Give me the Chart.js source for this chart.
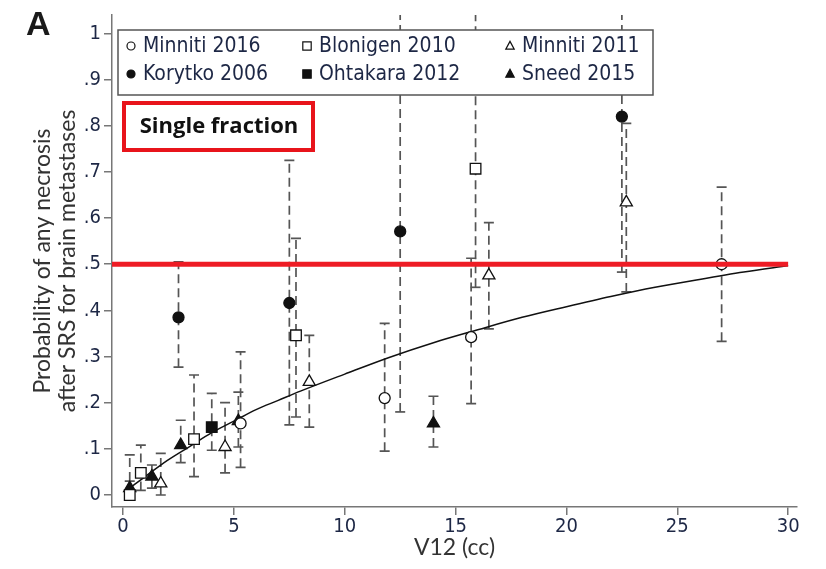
<!DOCTYPE html>
<html>
<head>
<meta charset="utf-8">
<script src="https://cdn.jsdelivr.net/npm/chart.js"></script>
<style>
  html, body { margin: 0; background: #fff; }
  #wrap { width: 826px; height: 569px; }
</style>
</head>
<body>
<div id="wrap"><canvas id="necrosisChart" width="826" height="569"></canvas></div>
<script>
// values: V12 (cc), probability, lower / upper CI
const minniti2016V  = [5.3, 11.8, 15.7, 27.0];
const minniti2016P  = [0.155, 0.21, 0.342, 0.50];
const minniti2016Lo = [0.06, 0.095, 0.198, 0.333];
const minniti2016Hi = [0.31, 0.372, 0.513, 0.667];

const korytko2006V  = [2.5, 7.5, 12.5, 22.5];
const korytko2006P  = [0.385, 0.416, 0.571, 0.82];
const korytko2006Lo = [0.277, 0.152, 0.18, 0.483];
const korytko2006Hi = [0.505, 0.725, 1.2, 1.2];

const blonigen2010V  = [0.3, 0.8, 3.2, 7.8, 15.9];
const blonigen2010P  = [0.0, 0.048, 0.121, 0.346, 0.707];
const blonigen2010Lo = [0.0, 0.01, 0.04, 0.169, 0.45];
const blonigen2010Hi = [0.03, 0.108, 0.26, 0.556, 1.2];

const ohtakara2012V  = [4.0];
const ohtakara2012P  = [0.147];
const ohtakara2012Lo = [0.097];
const ohtakara2012Hi = [0.22];

const minniti2011V  = [1.7, 4.6, 8.4, 16.5, 22.7];
const minniti2011P  = [0.025, 0.104, 0.245, 0.476, 0.634];
const minniti2011Lo = [0.0, 0.048, 0.147, 0.36, 0.44];
const minniti2011Hi = [0.09, 0.20, 0.346, 0.59, 0.805];

const sneed2015V  = [0.3, 1.3, 2.6, 5.2, 14.0];
const sneed2015P  = [0.015, 0.04, 0.108, 0.16, 0.155];
const sneed2015Lo = [0.0, 0.015, 0.07, 0.104, 0.104];
const sneed2015Hi = [0.087, 0.065, 0.162, 0.223, 0.214];

// fitted curve, read point by point
const curveV = [0.3, 1, 2, 3, 4, 5, 6, 7, 8, 10, 12, 14, 16, 18, 20, 22, 24, 26, 28, 30];
const curveP = [0.015, 0.04, 0.075, 0.105, 0.135, 0.16, 0.185, 0.205, 0.225, 0.262, 0.298, 0.33, 0.358, 0.385, 0.408, 0.43, 0.45, 0.467, 0.483, 0.497];

const thresholdV = [-0.5, 30];
const thresholdP = [0.5, 0.5];

const xTicks = [0, 5, 10, 15, 20, 25, 30];
const yTicks = [0, 0.1, 0.2, 0.3, 0.4, 0.5, 0.6, 0.7, 0.8, 0.9, 1];
const yTickLabels = ['0', '.1', '.2', '.3', '.4', '.5', '.6', '.7', '.8', '.9', '1'];

const narrow = '"DejaVu Sans Condensed", "Liberation Sans Narrow", sans-serif';
const navy = '#1d2745';

function pts(xs, ys) {
    return xs.map((v, i) => ({ x: v, y: ys[i] }));
}

function study(label, xs, ys, lo, hi, style, filled) {
    return {
        label: label,
        data: pts(xs, ys),
        lo: lo,
        hi: hi,
        showLine: false,
        pointStyle: style,
        pointRadius: style === 'rect' ? 7.5 : (style === 'triangle' ? 7 : 5.5),
        pointBackgroundColor: filled ? '#111' : '#fff',
        pointBorderColor: '#111',
        pointBorderWidth: 1.3,
        order: 1,
        filled: filled
    };
}

// dashed CI bars with caps, drawn under the markers
const errorBars = {
    id: 'errorBars',
    beforeDatasetsDraw(chart) {
        const { ctx, chartArea: a, scales: { x, y } } = chart;
        ctx.save();
        ctx.beginPath();
        ctx.rect(a.left, a.top, a.right - a.left, a.bottom - a.top);
        ctx.clip();
        ctx.strokeStyle = '#555';
        ctx.lineWidth = 1.7;
        chart.data.datasets.forEach(ds => {
            if (!ds.lo) return;
            ds.data.forEach((p, i) => {
                const px = x.getPixelForValue(p.x);
                const lo = y.getPixelForValue(ds.lo[i]);
                const hi = y.getPixelForValue(ds.hi[i]);
                ctx.setLineDash([9, 5]);
                ctx.beginPath();
                ctx.moveTo(px, lo);
                ctx.lineTo(px, hi);
                ctx.stroke();
                ctx.setLineDash([]);
                ctx.beginPath();
                ctx.moveTo(px - 5, lo); ctx.lineTo(px + 5, lo);
                if (ds.hi[i] <= 1) { ctx.moveTo(px - 5, hi); ctx.lineTo(px + 5, hi); }
                ctx.stroke();
            });
        });
        ctx.restore();
    }
};

function marker(ctx, style, filled, cx, cy, r) {
    ctx.beginPath();
    if (style === 'circle') {
        ctx.arc(cx, cy, r, 0, Math.PI * 2);
    } else if (style === 'rect') {
        ctx.rect(cx - r, cy - r, 2 * r, 2 * r);
    } else {
        ctx.moveTo(cx, cy - r * 1.1);
        ctx.lineTo(cx + r, cy + r * 0.75);
        ctx.lineTo(cx - r, cy + r * 0.75);
        ctx.closePath();
    }
    ctx.fillStyle = filled ? '#111' : '#fff';
    ctx.fill();
    ctx.strokeStyle = '#111';
    ctx.lineWidth = 1.2;
    ctx.stroke();
}

// legend box, panel letter and "Single fraction" label
const decorations = {
    id: 'decorations',
    afterDatasetsDraw(chart) {
        const { ctx, chartArea: a } = chart;
        ctx.save();

        const lx = a.left + 6, ly = a.top + 15, lw = 535, lh = 65;
        ctx.fillStyle = '#fff';
        ctx.fillRect(lx, ly, lw, lh);
        ctx.strokeStyle = '#555';
        ctx.lineWidth = 1.5;
        ctx.strokeRect(lx, ly, lw, lh);

        const order = ['Minniti 2016', 'Blonigen 2010', 'Minniti 2011', 'Korytko 2006', 'Ohtakara 2012', 'Sneed 2015'];
        const colX = [13, 189, 392];
        ctx.font = '21px ' + narrow;
        ctx.textBaseline = 'middle';
        order.forEach((name, k) => {
            const ds = chart.data.datasets.find(d => d.label === name);
            const cx = lx + colX[k % 3];
            const cy = ly + 16 + Math.floor(k / 3) * 28;
            marker(ctx, ds.pointStyle, ds.filled, cx, cy, ds.pointStyle === 'circle' ? 4 : 4.2);
            ctx.fillStyle = navy;
            ctx.fillText(name, cx + 12, cy + 1);
        });

        ctx.strokeStyle = '#e8141b';
        ctx.lineWidth = 4;
        ctx.strokeRect(a.left + 12, a.top + 88, 189, 47);
        ctx.fillStyle = '#111';
        ctx.font = 'bold 22px "Open Sans", sans-serif';
        ctx.textAlign = 'center';
        ctx.fillText('Single fraction', a.left + 107, a.top + 112);

        ctx.textAlign = 'left';
        ctx.textBaseline = 'alphabetic';
        ctx.font = 'bold 34px "Liberation Sans", sans-serif';
        ctx.fillStyle = '#1a1a1a';
        ctx.fillText('A', 26, 35);
        ctx.restore();
    }
};

new Chart(document.getElementById('necrosisChart'), {
    type: 'scatter',
    data: {
        datasets: [
            {
                label: 'threshold',
                data: pts(thresholdV, thresholdP),
                showLine: true,
                borderColor: '#ee1c25',
                borderWidth: 5,
                pointRadius: 0,
                order: 0
            },
            study('Minniti 2016', minniti2016V, minniti2016P, minniti2016Lo, minniti2016Hi, 'circle', false),
            study('Korytko 2006', korytko2006V, korytko2006P, korytko2006Lo, korytko2006Hi, 'circle', true),
            study('Blonigen 2010', blonigen2010V, blonigen2010P, blonigen2010Lo, blonigen2010Hi, 'rect', false),
            study('Ohtakara 2012', ohtakara2012V, ohtakara2012P, ohtakara2012Lo, ohtakara2012Hi, 'rect', true),
            study('Minniti 2011', minniti2011V, minniti2011P, minniti2011Lo, minniti2011Hi, 'triangle', false),
            study('Sneed 2015', sneed2015V, sneed2015P, sneed2015Lo, sneed2015Hi, 'triangle', true),
            {
                label: 'fit',
                data: pts(curveV, curveP),
                showLine: true,
                borderColor: '#111',
                borderWidth: 1.5,
                pointRadius: 0,
                cubicInterpolationMode: 'monotone',
                order: 2
            }
        ]
    },
    options: {
        responsive: false,
        animation: false,
        devicePixelRatio: 1,
        layout: { padding: { top: 15, right: 29, left: 0, bottom: 8 } },
        plugins: { legend: { display: false }, tooltip: { enabled: false } },
        scales: {
            x: {
                type: 'linear',
                min: -0.5,
                max: 30.4,
                afterBuildTicks: s => { s.ticks = xTicks.map(v => ({ value: v })); },
                afterFit: s => { s.height = 54; },
                ticks: { color: navy, font: { family: narrow, size: 20 }, padding: 0, maxRotation: 0 },
                grid: { drawOnChartArea: false, tickLength: 8, color: '#777', lineWidth: 1.5 },
                border: { color: '#777', width: 1.5 },
                title: { display: true, text: 'V12 (cc)', color: '#333', font: { family: 'Lato', size: 23 }, padding: 0 }
            },
            y: {
                min: -0.026,
                max: 1.04,
                afterBuildTicks: s => { s.ticks = yTicks.map(v => ({ value: v })); },
                afterFit: s => { s.width = 112; },
                ticks: {
                    color: navy,
                    font: { family: narrow, size: 20 },
                    padding: 3,
                    callback: (v, i) => yTickLabels[i]
                },
                grid: { drawOnChartArea: false, tickLength: 8, color: '#777', lineWidth: 1.5 },
                border: { color: '#777', width: 1.5 },
                title: {
                    display: true,
                    text: ['Probability of any necrosis', 'after SRS for brain metastases'],
                    color: '#333',
                    font: { family: 'Lato', size: 23, lineHeight: 1.1 },
                    padding: { top: 30, bottom: 0 }
                }
            }
        }
    },
    plugins: [errorBars, decorations]
});
</script>
</body>
</html>
